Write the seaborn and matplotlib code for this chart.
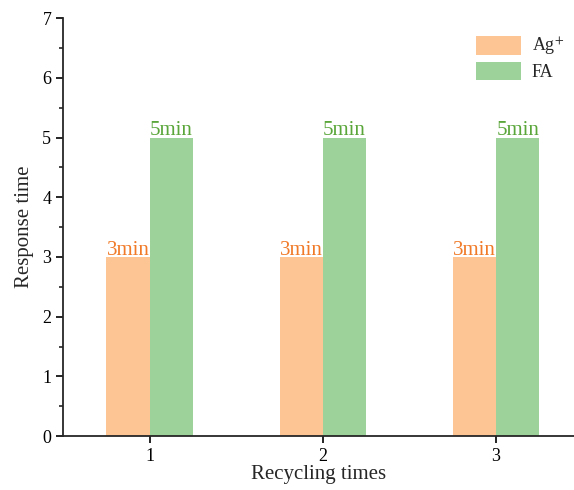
import matplotlib
matplotlib.use("Agg")
import matplotlib.pyplot as plt
import pandas as pd
import seaborn as sns
from matplotlib.ticker import MultipleLocator

recycling = ["1", "2", "3"]
ag_time = [3, 3, 3]
fa_time = [5, 5, 5]
series = ["Ag$^{+}$", "FA"]

df = pd.DataFrame({
    "Recycling times": recycling * 2,
    "Response time": ag_time + fa_time,
    "probe": [series[0]] * 3 + [series[1]] * 3,
})

sns.set_style("ticks")
plt.rcParams['font.family'] = ['Liberation Serif', 'DejaVu Serif']
plt.rcParams['mathtext.fontset'] = 'stix'

fig = plt.figure(figsize=(5.74, 4.90), dpi=100)
ax = fig.add_axes([0.110, 0.110, 0.890, 0.853])

palette = ["#FDC594", "#9DD39A"]
sns.barplot(data=df, x="Recycling times", y="Response time", hue="probe",
            palette=palette, width=0.5, saturation=1, linewidth=0, ax=ax,
            legend=True)

label_colors = ["#F07A28", "#5AA63A"]
for cont, col in zip(ax.containers, label_colors):
    ax.bar_label(cont, labels=["%dmin" % v for v in cont.datavalues],
                 color=col, fontsize=15, padding=-2)

ax.set_xlim(-0.5, 2.45)
ax.set_ylim(0, 7)
ax.yaxis.set_major_locator(MultipleLocator(1))
ax.yaxis.set_minor_locator(MultipleLocator(0.5))
ax.tick_params(axis="both", which="major", direction="out", length=5, width=1.2,
               labelsize=13, colors="black")
ax.tick_params(axis="y", which="minor", direction="out", length=3, width=1.2)
for s in ["top", "right"]:
    ax.spines[s].set_visible(False)
for s in ["left", "bottom"]:
    ax.spines[s].set_linewidth(1.3)

ax.set_xlabel("Recycling times", fontsize=15, labelpad=0)
ax.set_ylabel("Response time", fontsize=15, labelpad=6)

leg = ax.legend(loc="upper right", frameon=False, fontsize=13,
                bbox_to_anchor=(0.995, 0.975), borderaxespad=0.2, borderpad=0.2,
                handlelength=2.5, handleheight=1.2,
                handletextpad=0.6, labelspacing=0.2)

fig.savefig("out.png", dpi=100)
